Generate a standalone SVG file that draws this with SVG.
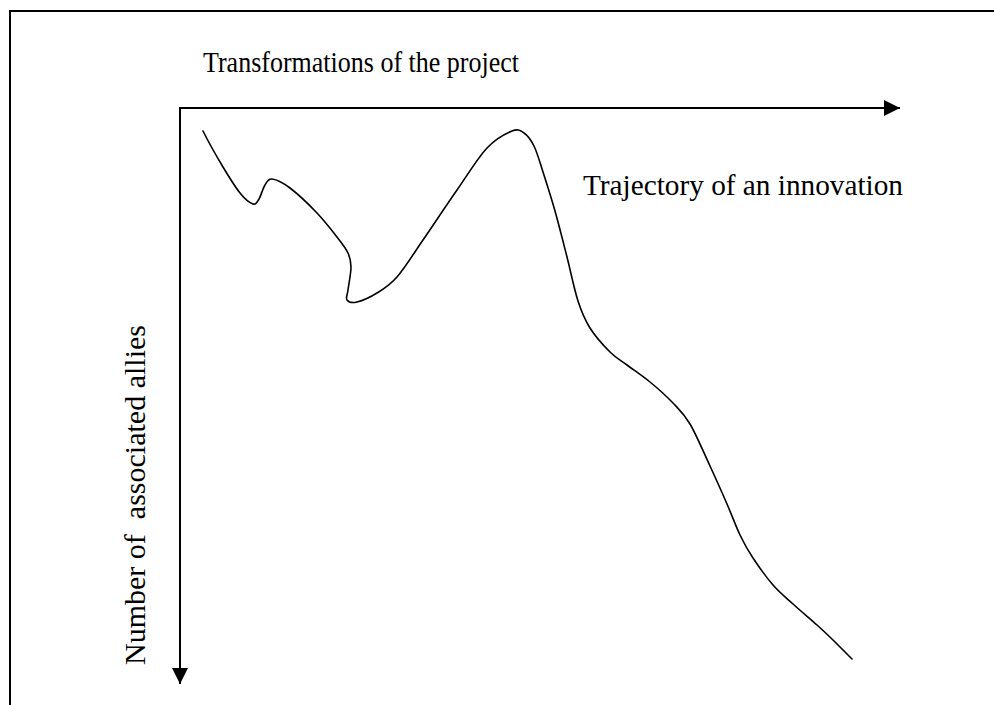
<svg xmlns="http://www.w3.org/2000/svg" width="994" height="705" viewBox="0 0 994 705">
  <style>
    .line { stroke: #000; stroke-width: 2; fill: none; }
    .curve { stroke: #000; stroke-width: 1.6; fill: none; stroke-linejoin: round; stroke-linecap: round; }
    .label { font-family: "Liberation Serif", "Times New Roman", serif; font-size: 30px; fill: #000; }
  </style>
  <defs>
    <marker id="arrow" markerUnits="userSpaceOnUse" markerWidth="16" markerHeight="16" refX="16" refY="8" orient="auto">
      <path d="M0,0 L16,8 L0,16 Z" fill="#000"/>
    </marker>
  </defs>
  <rect width="994" height="705" fill="#fff"/>
  <g id="frame">
    <path class="line" d="M10,705 L10,11 L994,11"/>
  </g>
  <g id="connectors">
    <line class="line" x1="179" y1="108" x2="900" y2="108" marker-end="url(#arrow)"/>
    <line class="line" x1="180" y1="108" x2="180" y2="684" marker-end="url(#arrow)"/>
  </g>
  <g id="trajectory">
    <path class="curve" d="M203,131 C206,137 216.8,156.7 223,167 S235,186.8 240,193 S249.8,203 253,204 S257,202.2 259,199 S262.8,188.3 265,185 S267.8,178.5 272,179 S282.5,182.3 290,188 S309.2,204.8 317,213 S331.8,230.3 337,237 S345.7,248 348,253 S351,260.8 351,267 S348.7,284.5 348,290 S345.5,298 347,300 S352,303.2 357,302 S370.3,297.2 377,293 S389.3,285.8 397,277 S413,254.5 423,240 S446.3,205.3 457,190 S477.8,157.8 487,148 S505.8,133.5 512,131 S520.3,130.5 524,133 S530.8,139.5 534,146 S539.5,161.2 543,172 S551,196.8 555,211 S563.2,242 567,257 S574.2,289.2 578,301 S584.7,319.5 590,328 S603.8,345.8 610,352 S620.3,360 627,365 S642.3,375.7 650,382 S666.3,396 673,403 S683.8,413.5 690,424 S703.8,452.7 710,466 S722,492.5 727,504 S735.7,526 740,535 S747.5,549.7 753,558 S766.3,577.3 773,585 S785.7,597.3 793,604 S810.3,619 817,625 S827.2,634.3 833,640 S848.8,655.8 852,659"/>
  </g>
  <g id="label-x">
    <text class="label" x="203" y="72" textLength="316" lengthAdjust="spacingAndGlyphs">Transformations of the project</text>
  </g>
  <g id="label-curve">
    <text class="label" x="583" y="195" textLength="320" lengthAdjust="spacingAndGlyphs">Trajectory of an innovation</text>
  </g>
  <g id="label-y">
    <text class="label" x="0" y="0" transform="translate(145,665) rotate(-90)" textLength="340" lengthAdjust="spacingAndGlyphs" xml:space="preserve">Number of  associated allies</text>
  </g>
</svg>
